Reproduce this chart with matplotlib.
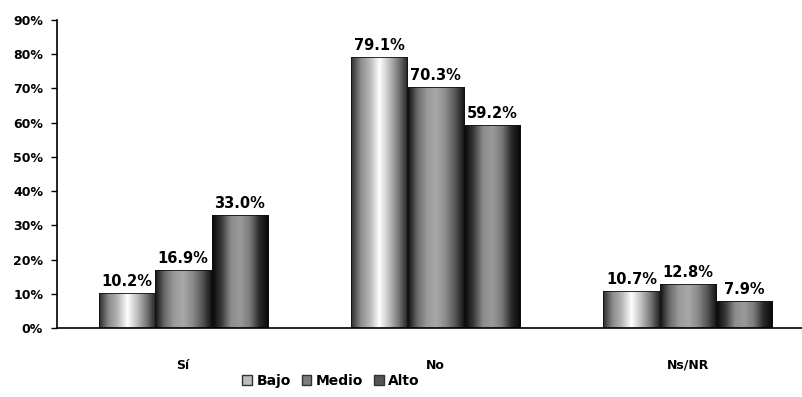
import numpy as np
import matplotlib
matplotlib.use("Agg")
import matplotlib.pyplot as plt
from matplotlib.colors import LinearSegmentedColormap
from matplotlib.patches import Patch

categories = ["Sí", "No", "Ns/NR"]
series = ["Bajo", "Medio", "Alto"]
bajo = [10.2, 79.1, 10.7]
medio = [16.9, 70.3, 12.8]
alto = [33.0, 59.2, 7.9]
yticks = [0, 10, 20, 30, 40, 50, 60, 70, 80, 90]

values = [bajo, medio, alto]
cmaps = [
    LinearSegmentedColormap.from_list("b", ["#2a2a2a", "#8a8a8a", "#b8b8b8", "#ffffff", "#c0c0c0", "#7a7a7a", "#222222"]),
    LinearSegmentedColormap.from_list("m", ["#111111", "#6a6a6a", "#9a9a9a", "#a8a8a8", "#8a8a8a", "#555555", "#111111"]),
    LinearSegmentedColormap.from_list("a", ["#050505", "#3a3a3a", "#8c8c8c", "#9a9a9a", "#7a7a7a", "#2a2a2a", "#050505"]),
]
solid = ["#bdbdbd", "#7d7d7d", "#555555"]

fig = plt.figure(figsize=(8.03, 3.97), dpi=100)
ax = fig.add_axes([57/803, 1-328/397, 1-57/803, (328-20)/397])

x = np.arange(len(categories))
w = 0.2222
grad = np.linspace(0, 1, 256).reshape(1, -1)
for i, vals in enumerate(values):
    pos = x + (i - 1) * 0.2236
    bars = ax.bar(pos, vals, w, color="none", edgecolor="#111111", linewidth=0.6, zorder=3)
    for b, v in zip(bars, vals):
        x0 = b.get_x(); x1 = x0 + b.get_width()
        im = ax.imshow(grad, cmap=cmaps[i], aspect="auto", extent=[x0, x1, 0, v], zorder=2)
        im.set_clip_path(b)
        ax.text(b.get_x() + b.get_width()/2, v + 1.2, f"{v:.1f}%", ha="center", va="bottom",
                fontsize=10.5, fontweight="bold", color="black")

ax.set_xlim(-0.5, 2.456)
ax.set_ylim(0, 90)
ax.set_yticks(yticks)
ax.set_yticklabels([f"{t}%" for t in yticks], fontsize=9, fontweight="bold")
ax.set_xticks(x)
ax.set_xticklabels(categories, fontsize=9, fontweight="bold")
ax.tick_params(axis="x", length=0, pad=22)
ax.tick_params(axis="y", length=4, width=1, pad=6)
for s in ["top", "right"]:
    ax.spines[s].set_visible(False)
ax.spines["left"].set_linewidth(1.2)
ax.spines["bottom"].set_linewidth(1.2)

handles = [Patch(facecolor=solid[i], edgecolor="#333333", label=series[i]) for i in range(3)]
fig.legend(handles=handles, loc="center", bbox_to_anchor=(331/803, 1-381/397), ncol=3, frameon=False,
           prop={"weight": "bold", "size": 10}, handlelength=0.7, handleheight=0.7, handletextpad=0.3,
           columnspacing=0.8)

fig.savefig("out.png", dpi=100)
